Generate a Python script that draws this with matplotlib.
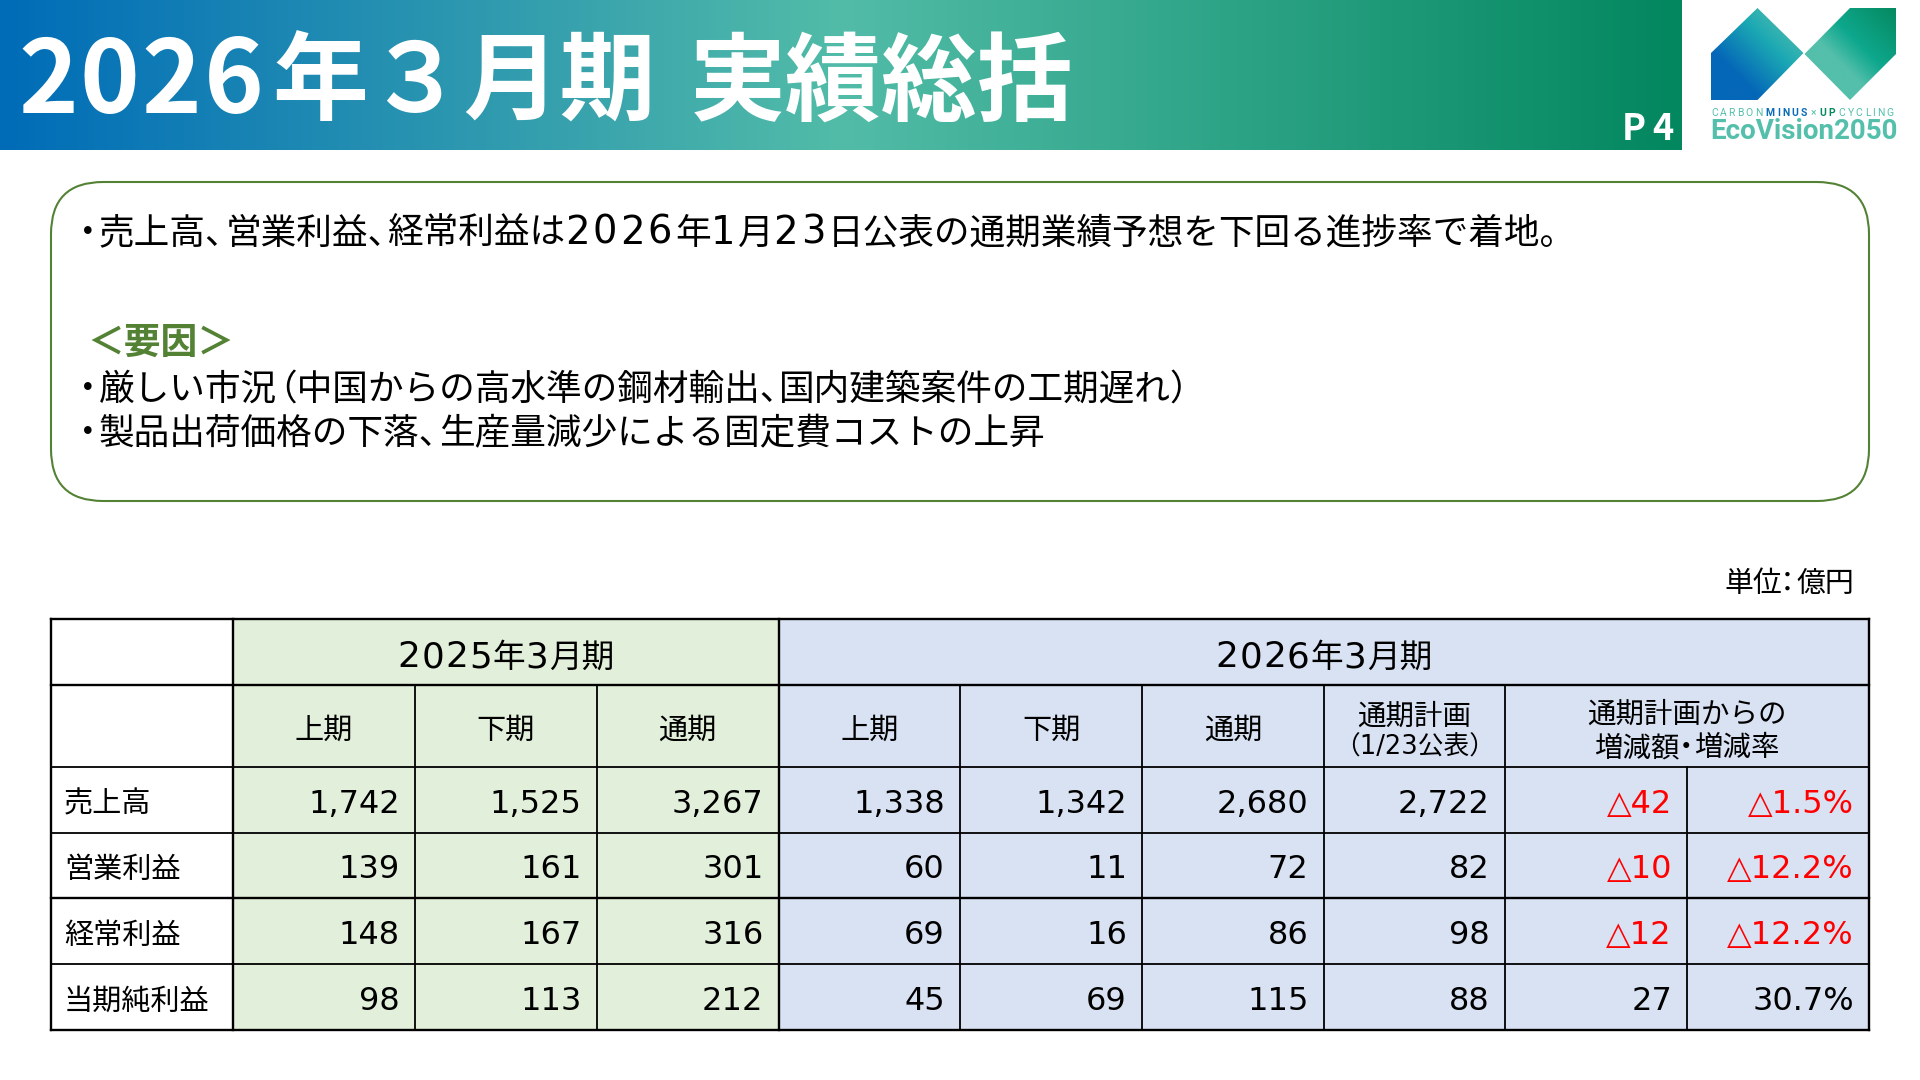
import re

import matplotlib
matplotlib.use("Agg")
import matplotlib.pyplot as plt
import numpy as np
from matplotlib.colors import LinearSegmentedColormap
from matplotlib.patches import FancyBboxPatch, Polygon, Rectangle

plt.rcParams["font.family"] = ["DejaVu Sans", "Noto Sans CJK JP"]

TITLE_PARTS = ["2026", "年３月期", "実績総括"]
PAGE = ["P", "4"]
BODY_LINE_1 = "・売上高、営業利益、経常利益は2026年1月23日公表の通期業績予想を下回る進捗率で着地。"
REASON_HEAD = "＜要因＞"
BODY_LINE_2 = "・厳しい市況（中国からの高水準の鋼材輸出、国内建築案件の工期遅れ）"
BODY_LINE_3 = "・製品出荷価格の下落、生産量減少による固定費コストの上昇"
UNIT = "単位：億円"

GROUP_2025 = "2025年3月期"
GROUP_2026 = "2026年3月期"
SUB_HEADERS = ["上期", "下期", "通期", "上期", "下期", "通期"]
PLAN_HEAD = ["通期計画", "（1/23公表）"]
DIFF_HEAD = ["通期計画からの", "増減額・増減率"]

ROW_LABELS = ["売上高", "営業利益", "経常利益", "当期純利益"]
H1_2025 = ["1,742", "139", "148", "98"]
H2_2025 = ["1,525", "161", "167", "113"]
FY_2025 = ["3,267", "301", "316", "212"]
H1_2026 = ["1,338", "60", "69", "45"]
H2_2026 = ["1,342", "11", "16", "69"]
FY_2026 = ["2,680", "72", "86", "115"]
PLAN_2026 = ["2,722", "82", "98", "88"]
DIFF_AMOUNT = ["△42", "△10", "△12", "27"]
DIFF_RATE = ["△1.5%", "△12.2%", "△12.2%", "30.7%"]

COL_EDGES = [51, 233, 415, 596.5, 778.5, 960, 1142, 1323.5, 1505, 1687, 1869]
ROW_EDGES = [619, 685, 767, 832.5, 898, 964, 1030]

GREEN = "#548235"
TEAL = "#54BFAB"
CELL_GREEN = "#E2EFDA"
CELL_BLUE = "#D9E2F3"

fig = plt.figure(figsize=(19.2, 10.8), dpi=100)
ax = fig.add_axes([0, 0, 1, 1])
ax.axis("off")
renderer = fig.canvas.get_renderer()


def split_runs(text, digits=False):
    # 約物は詰めて組むので、そこで区切る
    parts = re.split(r"(?<=[、。）：・])|(?=[（：・])", text)
    if digits:
        parts = [s for p in parts for s in re.split(r"(?<=\d)|(?=\d)", p)]
    return [p for p in parts if p]


def put_runs(x, y, runs, size, ha="left", gap=0.0, digit_gap=0.0, digit_scale=1.0, **kw):
    em = size / 0.72
    placed = []
    pos = 0
    for run in runs:
        lead = 0
        run_size = size
        if run[0] in "・：":
            lead = -0.3 * em
        elif run[0] == "（":
            lead = -0.45 * em
        if run.isdigit():
            run_size = size * digit_scale
        t = ax.text(pos + lead, y, run, fontsize=run_size, ha="left", va="baseline", **kw)
        adv = t.get_window_extent(renderer).width + lead
        if run[-1] in "、。）":
            adv -= 0.45 * em
        if run in ("・", "："):
            adv -= 0.2 * em
        if run.isdigit():
            adv += digit_gap * em
        placed.append((t, pos + lead))
        pos += adv + gap * em
    start = {"left": x, "center": x - pos / 2, "right": x - pos}[ha]
    for t, p in placed:
        t.set_x(start + p)


def gradient(extent, stops, direction=(1, 0), clip=None):
    gy, gx = np.mgrid[0:1:200j, 0:1:400j]
    g = gx * direction[0] + (1 - gy) * direction[1]
    g = g / (direction[0] + direction[1])
    cmap = LinearSegmentedColormap.from_list("g", stops)
    im = ax.imshow(g, extent=extent, cmap=cmap, aspect="auto", zorder=1, vmin=0, vmax=1)
    if clip is not None:
        patch = Polygon(clip, closed=True, transform=ax.transData, fc="none", ec="none")
        ax.add_patch(patch)
        im.set_clip_path(patch)


# ヘッダー
gradient((0, 1682, 150, 0), ["#006CB8", "#52BCA8", "#03875F"])
title_kw = dict(color="white", fontweight="bold", family="Noto Sans CJK JP", zorder=3)
put_runs(18, 113, list(TITLE_PARTS[0]), 73, gap=0.02, **title_kw)
put_runs(272, 113, [TITLE_PARTS[1]], 69, **title_kw)
put_runs(690, 113, [TITLE_PARTS[2]], 69, **title_kw)
put_runs(1622, 140, PAGE, 26, gap=0.16, **title_kw)

# ロゴ
gradient((1711, 1803, 100, 8), [(0, "#0567B8"), (0.28, "#0567B8"), (0.62, "#1BA8B4"), (0.9, "#54BFAB"), (1, "#54BFAB")],
         direction=(1, 1), clip=[(1711, 53), (1757.5, 8), (1803.5, 53), (1757.5, 100), (1711, 100)])
gradient((1804, 1896, 100, 8), [(0, "#54BFAB"), (0.4, "#54BFAB"), (0.6, "#0EA88E"), (1, "#05895F")],
         direction=(1, 1), clip=[(1804.5, 54), (1850, 8), (1896, 8), (1896, 54), (1850, 100)])

logo_x = 1711
for word, color, weight in [("CARBON", TEAL, "normal"), ("MINUS", "#0A6CB8", "bold"),
                            ("×", TEAL, "normal"), ("UP", "#05895F", "bold"),
                            ("CYCLING", TEAL, "normal")]:
    for ch in word:
        t = ax.text(logo_x, 116, ch, fontsize=7.5, color=color, fontweight=weight,
                    family="Roboto", ha="left", va="baseline", zorder=3)
        logo_x += t.get_window_extent(renderer).width + 2.1
    logo_x += 1.5
ax.text(1710, 139, "EcoVision2050", fontsize=20, fontweight="bold", color=TEAL,
        family="Roboto", ha="left", va="baseline", zorder=3)

# 説明の枠
ax.add_patch(FancyBboxPatch((51, 182), 1818, 319, boxstyle="round,pad=0,rounding_size=52",
                            fc="white", ec=GREEN, lw=1.5, zorder=1))
body_kw = dict(color="black", zorder=3, digit_scale=1.08, digit_gap=0.08)
put_runs(81, 244, split_runs(BODY_LINE_1, digits=True), 25.7, **body_kw)
put_runs(87, 354, [REASON_HEAD], 26.5, color=GREEN, fontweight="bold", zorder=3,
         family="Noto Sans CJK JP")
put_runs(81, 400, split_runs(BODY_LINE_2), 25.7, **body_kw)
put_runs(81, 444, split_runs(BODY_LINE_3), 25.7, **body_kw)
put_runs(1854, 592, split_runs(UNIT), 20.8, ha="right", color="black", zorder=3)

# 表のセル
ax.add_patch(Rectangle((COL_EDGES[1], ROW_EDGES[0]), COL_EDGES[4] - COL_EDGES[1],
                       ROW_EDGES[-1] - ROW_EDGES[0], fc=CELL_GREEN, ec="none", zorder=1))
ax.add_patch(Rectangle((COL_EDGES[4], ROW_EDGES[0]), COL_EDGES[-1] - COL_EDGES[4],
                       ROW_EDGES[-1] - ROW_EDGES[0], fc=CELL_BLUE, ec="none", zorder=1))

# 罫線
for i, y in enumerate(ROW_EDGES):
    lw = 1.7 if i in (0, 1, 4, 6) else 1.3
    ax.plot([COL_EDGES[0], COL_EDGES[-1]], [y, y], color="black", lw=lw, zorder=2,
            solid_capstyle="projecting")
for i, x in enumerate(COL_EDGES):
    y0 = ROW_EDGES[1] if i in (2, 3, 5, 6, 7, 8) else ROW_EDGES[0]
    if i == 9:
        y0 = ROW_EDGES[2]
    lw = 1.7 if i in (0, 1, 4, 10) else 1.3
    ax.plot([x, x], [y0, ROW_EDGES[-1]], color="black", lw=lw, zorder=2,
            solid_capstyle="projecting")

# 見出し
group_kw = dict(ha="center", zorder=3, digit_scale=1.1, digit_gap=0.03)
put_runs((COL_EDGES[1] + COL_EDGES[4]) / 2, 667, split_runs(GROUP_2025, digits=True), 23.5, **group_kw)
put_runs((COL_EDGES[4] + COL_EDGES[-1]) / 2, 667, split_runs(GROUP_2026, digits=True), 23.5, **group_kw)
for i, label in enumerate(SUB_HEADERS):
    cx = (COL_EDGES[i + 1] + COL_EDGES[i + 2]) / 2
    put_runs(cx, 739, [label], 21, ha="center", zorder=3)
plan_cx = (COL_EDGES[7] + COL_EDGES[8]) / 2
put_runs(plan_cx, 725, split_runs(PLAN_HEAD[0]), 20.5, ha="center", zorder=3)
put_runs(plan_cx, 755, split_runs(PLAN_HEAD[1]), 18.5, ha="center", zorder=3)
diff_cx = (COL_EDGES[8] + COL_EDGES[10]) / 2
put_runs(diff_cx, 723, split_runs(DIFF_HEAD[0]), 20.5, ha="center", zorder=3)
put_runs(diff_cx, 756, split_runs(DIFF_HEAD[1]), 20.5, ha="center", zorder=3)

# 数値
columns = [H1_2025, H2_2025, FY_2025, H1_2026, H2_2026, FY_2026, PLAN_2026, DIFF_AMOUNT, DIFF_RATE]
for r, label in enumerate(ROW_LABELS):
    mid = (ROW_EDGES[r + 2] + ROW_EDGES[r + 3]) / 2
    ax.text(COL_EDGES[0] + 13, mid + 12.5, label, fontsize=21, ha="left", va="baseline", zorder=3)
    for c, values in enumerate(columns):
        color = "#FF0000" if values[r].startswith("△") else "black"
        ax.text(COL_EDGES[c + 2] - 15, mid + 13, values[r], fontsize=23, color=color,
                ha="right", va="baseline", zorder=3)

ax.set_xlim(0, 1920)
ax.set_ylim(1080, 0)
fig.savefig("out.png", dpi=100, facecolor="white")
